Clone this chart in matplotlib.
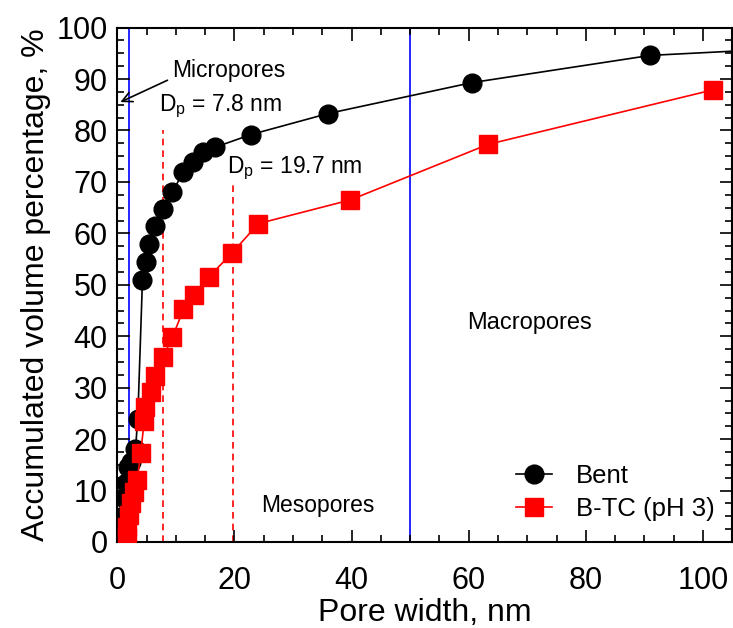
import matplotlib
matplotlib.use('Agg')
import matplotlib.pyplot as plt
from matplotlib.ticker import MultipleLocator

plt.rcParams['font.family'] = ['Liberation Sans', 'DejaVu Sans']

# Bent
bent_x = [0.7, 0.9, 1.2, 1.5, 1.9, 2.4, 3.1, 3.5, 4.3, 4.9, 5.5, 6.4, 7.8, 9.4,
          11.3, 13.0, 14.6, 16.6, 22.8, 36.0, 60.5, 91.0, 115.0]
bent_y = [1.5, 5.0, 8.5, 11.5, 14.5, 15.5, 18.0, 24.0, 51.0, 54.5, 58.0, 61.4, 64.7, 68.0,
          72.0, 73.8, 75.8, 76.7, 79.2, 83.3, 89.3, 94.6, 96.0]

# B-TC (pH 3)
btc_x = [1.7, 1.7, 2.0, 2.3, 2.8, 3.4, 4.0, 4.6, 4.8, 5.7, 6.4, 7.8, 9.4, 11.3,
         13.1, 15.7, 19.6, 24.1, 39.8, 63.3, 101.7]
btc_y = [0.8, 2.9, 5.2, 7.5, 9.7, 12.0, 17.3, 23.5, 26.3, 29.2, 32.2, 35.9, 39.8, 45.2,
         48.1, 51.6, 56.2, 61.9, 66.5, 77.3, 87.9]

pore_limits = [2, 50]
dp_values = [7.8, 19.7]
dp_tops = [80, 70]

fig = plt.figure(figsize=(7.33, 6.28), dpi=100)
ax = fig.add_axes([0.16, 0.137, 0.839, 0.819])

for x in pore_limits:
    ax.axvline(x, color='blue', lw=1.2, zorder=1)
for x, top in zip(dp_values, dp_tops):
    ax.plot([x, x], [0, top], color='red', ls=(0, (4, 3)), lw=1.2, zorder=1)

ax.plot(bent_x, bent_y, '-o', color='black', lw=1.2, ms=13.5, label='Bent', zorder=3)
ax.plot(btc_x, btc_y, '-s', color='red', lw=1.2, ms=13, label='B-TC (pH 3)', zorder=4)

ax.set_xlim(0, 105)
ax.set_ylim(0, 100)
ax.xaxis.set_major_locator(MultipleLocator(20))
ax.xaxis.set_minor_locator(MultipleLocator(5))
ax.yaxis.set_major_locator(MultipleLocator(10))
ax.yaxis.set_minor_locator(MultipleLocator(2.5))
ax.tick_params(which='both', direction='in', top=True, right=True, labelsize=22, width=1.2)
ax.tick_params(which='major', length=9)
ax.tick_params(which='minor', length=5)
ax.tick_params(axis='x', which='major', pad=17)
ax.tick_params(axis='y', which='major', pad=7)
for s in ax.spines.values():
    s.set_linewidth(1.5)

ax.set_xlabel('Pore width, nm', fontsize=23, labelpad=2)
ax.set_ylabel('Accumulated volume percentage, %', fontsize=23, labelpad=4)

ax.text(9.4, 91.7, 'Micropores', fontsize=16.5, ha='left', va='center')
ax.annotate('', xy=(0.1, 85.3), xytext=(9.0, 90.0),
            arrowprops=dict(arrowstyle='->', color='black', lw=1.2, mutation_scale=18))
ax.text(7.2, 84.7, r'D$_\mathregular{p}$ = 7.8 nm', fontsize=16.5, ha='left', va='center')
ax.text(18.7, 72.7, r'D$_\mathregular{p}$ = 19.7 nm', fontsize=16.5, ha='left', va='center')
ax.text(70.4, 42.5, 'Macropores', fontsize=17, ha='center', va='center')
ax.text(34.3, 7.1, 'Mesopores', fontsize=16.5, ha='center', va='center')

ax.legend(loc='lower right', bbox_to_anchor=(1.0, 0.005), frameon=False, fontsize=18.5,
          handlelength=1.4, handletextpad=0.9, labelspacing=0.35, borderaxespad=0.3)

fig.savefig('out.png', dpi=100)
